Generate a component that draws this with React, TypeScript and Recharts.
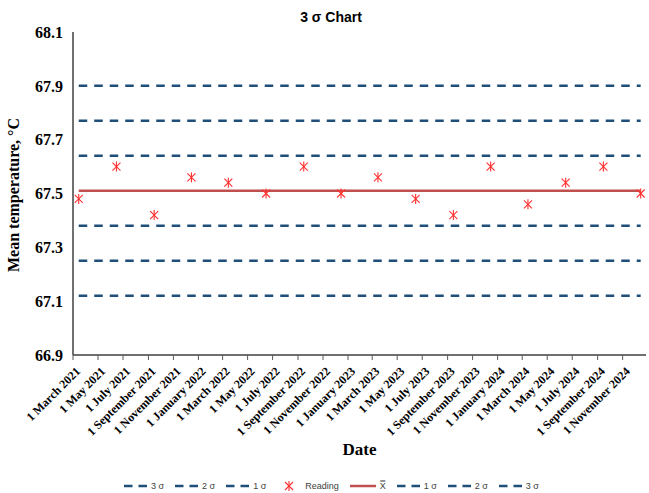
import { ComposedChart, Line, XAxis, YAxis } from 'recharts';

// Quarterly mean temperature readings
const readingDates = [
  '2021-03-15', '2021-06-15', '2021-09-15', '2021-12-15',
  '2022-03-15', '2022-06-15', '2022-09-15', '2022-12-15',
  '2023-03-15', '2023-06-15', '2023-09-15', '2023-12-15',
  '2024-03-15', '2024-06-15', '2024-09-15', '2024-12-15',
];
const readings = [
  67.48, 67.6, 67.42, 67.56,
  67.54, 67.5, 67.6, 67.5,
  67.56, 67.48, 67.42, 67.6,
  67.46, 67.54, 67.6, 67.5,
];

// Control limits: centre line and ±1σ, ±2σ, ±3σ
const meanLevel = 67.51;
const upperLimits = [67.64, 67.77, 67.9];
const lowerLimits = [67.38, 67.25, 67.12];

const axisStart = '2021-03-01';
const axisEnd = '2024-12-28';
const tickDates = [
  '2021-03-01', '2021-05-01', '2021-07-01', '2021-09-01', '2021-11-01',
  '2022-01-01', '2022-03-01', '2022-05-01', '2022-07-01', '2022-09-01', '2022-11-01',
  '2023-01-01', '2023-03-01', '2023-05-01', '2023-07-01', '2023-09-01', '2023-11-01',
  '2024-01-01', '2024-03-01', '2024-05-01', '2024-07-01', '2024-09-01', '2024-11-01',
];
const yTicks = [66.9, 67.1, 67.3, 67.5, 67.7, 67.9, 68.1];

const monthNames = [
  'January', 'February', 'March', 'April', 'May', 'June',
  'July', 'August', 'September', 'October', 'November', 'December',
];

const BLUE = '#1F4E79';
const RED_LINE = '#C0504D';
const RED_MARK = '#FF3030';
const SERIF = "'Liberation Serif', 'Times New Roman', serif";
const SANS = "'Liberation Sans', Arial, sans-serif";

const chartData = readingDates.map((d, i) => ({
  t: Date.parse(d),
  reading: readings[i],
  mean: meanLevel,
  u1: upperLimits[0],
  u2: upperLimits[1],
  u3: upperLimits[2],
  l1: lowerLimits[0],
  l2: lowerLimits[1],
  l3: lowerLimits[2],
}));

const formatDate = (ms: number) => {
  const d = new Date(ms);
  return `${d.getUTCDate()} ${monthNames[d.getUTCMonth()]} ${d.getUTCFullYear()}`;
};

const StarDot = (props: any) => {
  const { cx, cy, key } = props;
  if (cx == null || cy == null) return null;
  const r = 4;
  return (
    <g key={key} stroke={RED_MARK} strokeWidth={1.1}>
      <line x1={cx - r} y1={cy - r} x2={cx + r} y2={cy + r} />
      <line x1={cx - r} y1={cy + r} x2={cx + r} y2={cy - r} />
      <line x1={cx} y1={cy - r - 1} x2={cx} y2={cy + r + 1} />
    </g>
  );
};

const DateTick = ({ x, y, payload }: any) => (
  <text
    transform={`translate(${x + 8},${y + 10}) rotate(-45)`}
    textAnchor="end"
    fontFamily={SERIF}
    fontWeight="bold"
    fontSize={12}
    fill="#000"
  >
    {formatDate(payload.value)}
  </text>
);

const DashIcon = () => (
  <svg width={23} height={6}>
    <line x1={0} y1={3} x2={23} y2={3} stroke={BLUE} strokeWidth={2.5} strokeDasharray="8.5 6" />
  </svg>
);

const legendItems: { icon: 'dash' | 'star' | 'line'; label: string }[] = [
  { icon: 'dash', label: '3 σ' },
  { icon: 'dash', label: '2 σ' },
  { icon: 'dash', label: '1 σ' },
  { icon: 'star', label: 'Reading' },
  { icon: 'line', label: 'X̿' },
  { icon: 'dash', label: '1 σ' },
  { icon: 'dash', label: '2 σ' },
  { icon: 'dash', label: '3 σ' },
];

const ChartLegend = () => (
  <div
    style={{
      position: 'absolute',
      left: 124,
      top: 480,
      display: 'flex',
      alignItems: 'center',
      gap: 11,
      fontFamily: SANS,
      fontSize: 9,
      color: '#404040',
      whiteSpace: 'nowrap',
    }}
  >
    {legendItems.map((item, i) => (
      <div key={i} style={{ display: 'flex', alignItems: 'center', gap: 4 }}>
        {item.icon === 'dash' && <DashIcon />}
        {item.icon === 'star' && (
          <svg width={24} height={12}>
            <StarDot cx={12} cy={6} />
          </svg>
        )}
        {item.icon === 'line' && (
          <svg width={26} height={6}>
            <line x1={0} y1={3} x2={26} y2={3} stroke={RED_LINE} strokeWidth={2.5} />
          </svg>
        )}
        <span>{item.label}</span>
      </div>
    ))}
  </div>
);

const limitKeys = ['u3', 'u2', 'u1', 'l1', 'l2', 'l3'];

export default function App() {
  return (
    <div style={{ position: 'absolute', left: 0, top: 0, width: 649, height: 493, background: '#fff' }}>
      <div
        style={{
          position: 'absolute',
          left: 0,
          width: 662,
          top: 9,
          textAlign: 'center',
          fontFamily: SANS,
          fontWeight: 'bold',
          fontSize: 14,
          color: '#000',
        }}
      >
        3 σ Chart
      </div>
      <ComposedChart
        width={649}
        height={493}
        data={chartData}
        margin={{ top: 32, right: 3, left: 0, bottom: 38 }}
      >
        <XAxis
          dataKey="t"
          type="number"
          scale="linear"
          domain={[Date.parse(axisStart), Date.parse(axisEnd)]}
          ticks={tickDates.map((d) => Date.parse(d))}
          allowDataOverflow
          interval={0}
          height={100}
          tick={<DateTick />}
          tickSize={5}
          tickMargin={2}
          tickLine={{ stroke: '#595959', strokeWidth: 1 }}
          axisLine={{ stroke: '#404040', strokeWidth: 1.5 }}
          label={{
            value: 'Date',
            position: 'insideBottom',
            offset: 0,
            fontFamily: SERIF,
            fontWeight: 'bold',
            fontSize: 17,
            fill: '#000',
          }}
        />
        <XAxis
          xAxisId="top"
          orientation="top"
          dataKey="t"
          type="number"
          domain={[Date.parse(axisStart), Date.parse(axisEnd)]}
          height={0}
          tick={false}
          tickLine={false}
          axisLine={{ stroke: '#404040', strokeWidth: 1.5 }}
        />
        <YAxis
          type="number"
          domain={[66.9, 68.1]}
          ticks={yTicks}
          interval={0}
          width={73}
          tickLine={false}
          tickSize={6}
          tickMargin={4}
          tickFormatter={(v: number) => v.toFixed(1)}
          tick={{ fontFamily: SERIF, fontWeight: 'bold', fontSize: 16, fill: '#000' }}
          axisLine={{ stroke: '#404040', strokeWidth: 1.5 }}
          label={() => (
            <text
              transform="translate(19,195) rotate(-90)"
              textAnchor="middle"
              fontFamily={SERIF}
              fontWeight="bold"
              fontSize={16}
              fill="#000"
            >
              Mean temperature, °C
            </text>
          )}
        />
        <YAxis
          yAxisId="right"
          orientation="right"
          type="number"
          domain={[66.9, 68.1]}
          width={0}
          tick={false}
          tickLine={false}
          axisLine={{ stroke: '#404040', strokeWidth: 1.5 }}
        />
        {limitKeys.map((k) => (
          <Line
            key={k}
            dataKey={k}
            stroke={BLUE}
            strokeWidth={2.5}
            strokeDasharray="8.5 7"
            dot={false}
            activeDot={false}
            isAnimationActive={false}
          />
        ))}
        <Line
          dataKey="mean"
          stroke={RED_LINE}
          strokeWidth={2.5}
          dot={false}
          activeDot={false}
          isAnimationActive={false}
        />
        <Line
          dataKey="reading"
          stroke="none"
          dot={StarDot}
          activeDot={false}
          isAnimationActive={false}
        />
      </ComposedChart>
      <ChartLegend />
    </div>
  );
}
